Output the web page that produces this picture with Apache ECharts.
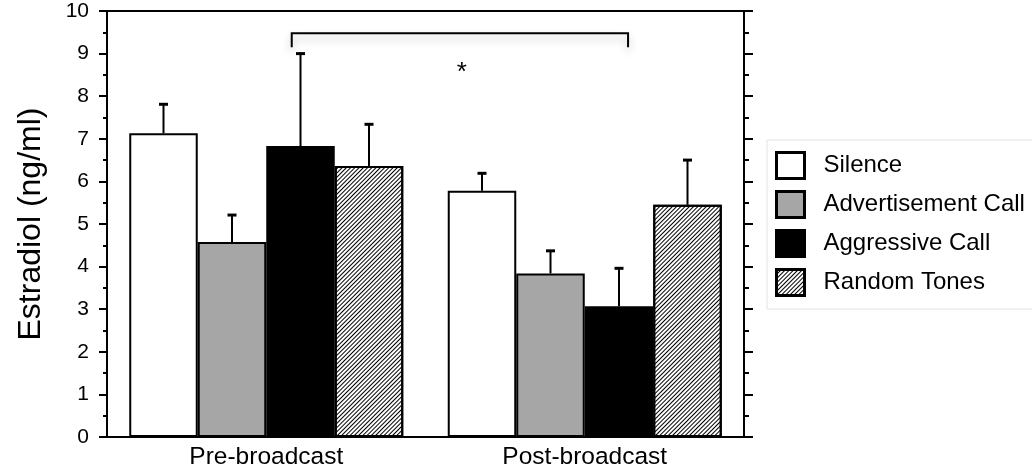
<!DOCTYPE html>
<html><head><meta charset="utf-8">
<script src="https://cdn.jsdelivr.net/npm/echarts@6/dist/echarts.min.js"></script>
<style>html,body{margin:0;padding:0;background:#fff}#c{width:1032px;height:474px}</style>
</head><body><div id="c"></div>
<script>
// ---- data ----
const categories = ['Pre-broadcast', 'Post-broadcast'];
const seriesNames = ['Silence', 'Advertisement Call', 'Aggressive Call', 'Random Tones'];
const silence = [7.13, 5.78];
const advertisement = [4.58, 3.84];
const aggressive = [6.83, 3.07];
const randomTones = [6.36, 5.45];
const silenceErr = [0.68, 0.41];
const advertisementErr = [0.63, 0.53];
const aggressiveErr = [2.17, 0.89];
const randomTonesErr = [0.98, 1.05];
const yTicks = [0, 1, 2, 3, 4, 5, 6, 7, 8, 9, 10];
// significance bracket (x in category-index units, y in ng/ml)
const bracketX = [0.08, 1.136];
const bracketY = [9.48, 9.15];
const starPos = [0.614, 8.55];
const starText = '*';

// ---- styles ----
const FONT = 'Liberation Sans, Arial, Helvetica, sans-serif';
const BAR_W = 68.5;
const CAP = 4.5;
const values = [silence, advertisement, aggressive, randomTones];
const errs = [silenceErr, advertisementErr, aggressiveErr, randomTonesErr];
const fills = ['#ffffff', '#a6a6a6', '#000000', '#ffffff'];
const hatch = {symbol: 'rect', symbolSize: 1, dashArrayX: [1, 0], dashArrayY: [1, 2], rotation: -Math.PI / 4, color: '#000'};

const barSeries = seriesNames.map((name, i) => ({
  name, type: 'bar', xAxisIndex: 0, yAxisIndex: 0,
  barWidth: BAR_W, barGap: '0%',
  data: values[i],
  itemStyle: Object.assign({color: fills[i], borderColor: '#000', borderWidth: 2}, i === 3 ? {decal: hatch} : {}),
  emphasis: {disabled: true}, silent: true
}));

const errData = [];
values.forEach((arr, si) => arr.forEach((v, ci) => errData.push([ci, si, v, v + errs[si][ci]])));

const errSeries = {
  type: 'custom', xAxisIndex: 0, yAxisIndex: 0, silent: true, z: 5,
  encode: {x: 0, y: 3},
  data: errData,
  renderItem(params, api) {
    const cat = api.value(0), si = api.value(1);
    const b = api.coord([cat, api.value(2)]);
    const t = api.coord([cat, api.value(3)]);
    const x = b[0] + (si - 1.5) * BAR_W;
    return {type: 'group', children: [
      {type: 'line', shape: {x1: x, y1: b[1], x2: x, y2: t[1]}, style: {stroke: '#000', lineWidth: 2}},
      {type: 'line', shape: {x1: x - CAP, y1: t[1], x2: x + CAP, y2: t[1]}, style: {stroke: '#000', lineWidth: 3}}
    ]};
  }
};

const bracketSeries = {
  type: 'custom', xAxisIndex: 2, yAxisIndex: 0, silent: true, z: 6,
  data: [[bracketX[0], bracketX[1], bracketY[0], bracketY[1]]],
  encode: {x: [0, 1], y: [2, 3]},
  renderItem(params, api) {
    const a = api.coord([api.value(0), api.value(2)]);
    const b = api.coord([api.value(1), api.value(2)]);
    const dl = api.coord([api.value(0), api.value(3)]);
    const dr = api.coord([api.value(1), api.value(3)]);
    const s = api.coord(starPos);
    return {type: 'group', children: [
      {type: 'polyline', shape: {points: [dl, a, b, dr]},
       style: {stroke: '#000', lineWidth: 2, fill: null, shadowBlur: 8, shadowColor: 'rgba(0,0,0,0.25)', shadowOffsetY: 5}},
      {type: 'text', x: s[0], y: s[1], style: {text: starText, fontSize: 26, fontFamily: FONT, fill: '#000', align: 'center', verticalAlign: 'middle'}}
    ]};
  }
};

const blackLine = {color: '#000', width: 2};
const chart = echarts.init(document.getElementById('c'), null, {renderer: 'canvas'});
chart.setOption({
  animation: false,
  backgroundColor: '#fff',
  grid: {left: 107, right: 288, top: 11, bottom: 37, containLabel: false},
  legend: {
    data: seriesNames, orient: 'vertical', left: 767, top: 140,
    padding: [11, 8, 12, 8], itemWidth: 28, itemHeight: 26, itemGap: 10,
    borderColor: '#e2e2e2', borderWidth: 1, icon: 'rect',
    itemStyle: {borderColor: '#000', borderWidth: 3},
    textStyle: {fontSize: 24, color: '#000', fontFamily: FONT, padding: [0, 0, 0, 14]},
    selectedMode: false
  },
  xAxis: [
    {type: 'category', data: categories, position: 'bottom',
     axisLine: {onZero: false, lineStyle: blackLine},
     axisTick: {alignWithLabel: true, length: 4, lineStyle: blackLine},
     axisLabel: {fontSize: 24.5, color: '#000', fontFamily: FONT, margin: 8}},
    {type: 'category', data: categories, position: 'top',
     axisLine: {onZero: false, lineStyle: blackLine},
     axisTick: {alignWithLabel: true, length: 4, lineStyle: blackLine},
     axisLabel: {show: false}},
    {type: 'value', min: -0.5, max: 1.5, show: false, position: 'bottom', axisLine: {onZero: false}}
  ],
  yAxis: [
    {type: 'value', min: yTicks[0], max: yTicks[yTicks.length - 1], interval: 1, position: 'left',
     axisLine: {show: true, onZero: false, lineStyle: blackLine},
     axisTick: {show: true, inside: false, length: 8, lineStyle: blackLine},
     minorTick: {show: true, splitNumber: 2, length: 4, lineStyle: blackLine},
     splitLine: {show: false}, minorSplitLine: {show: false},
     axisLabel: {fontSize: 21, color: '#000', fontFamily: FONT, margin: 18},
     name: 'Estradiol (ng/ml)', nameLocation: 'middle', nameGap: 60,
     nameTextStyle: {fontSize: 32, color: '#000', fontFamily: FONT}},
    {type: 'value', min: yTicks[0], max: yTicks[yTicks.length - 1], interval: 1, position: 'right',
     axisLine: {show: true, onZero: false, lineStyle: blackLine},
     axisTick: {show: true, inside: false, length: 9, lineStyle: blackLine},
     minorTick: {show: true, splitNumber: 2, length: 5, lineStyle: blackLine},
     splitLine: {show: false}, axisLabel: {show: false}}
  ],
  series: [...barSeries, errSeries, bracketSeries]
});
</script></body></html>
